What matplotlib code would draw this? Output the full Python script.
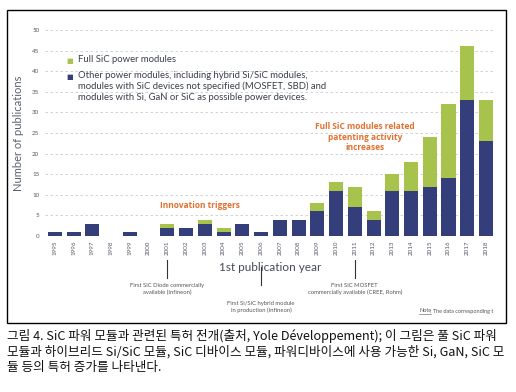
import matplotlib
matplotlib.use('Agg')
import matplotlib.pyplot as plt
from matplotlib.patches import Rectangle
import numpy as np

years = [str(y) for y in range(1995, 2019)]
other_modules = [1, 1, 3, 0, 1, 0, 2, 2, 3, 1, 3, 1, 4, 4, 6, 11, 7, 4, 11, 11, 12, 14, 33, 23]
full_sic = [0, 0, 0, 0, 0, 0, 1, 0, 1, 1, 0, 0, 0, 0, 2, 2, 5, 2, 4, 7, 12, 18, 13, 10]

milestones = {
    '2001': 'First SiC Diode commercially\navailable (Infineon)',
    '2006': 'First Si/SiC hybrid module\nin production (Infineon)',
    '2011': 'First SiC MOSFET\ncommercially available (CREE, Rohm)',
}

caption = [
    '그림 4. SiC 파워 모듈과 관련된 특허 전개(출처, Yole Développement); 이 그림은 풀 SiC 파워',
    '모듈과 하이브리드 Si/SiC 모듈, SiC 디바이스 모듈, 파워디바이스에 사용 가능한 Si, GaN, SiC 모',
    '듈 등의 특허 증가를 나타낸다.',
]

NAVY = '#343e7a'
GREEN = '#a8c34b'
ORANGE = '#e2702e'
GRAY = '#555a66'

plt.rcParams['font.family'] = ['Lato', 'DejaVu Sans']

fig = plt.figure(figsize=(5.16, 3.92), dpi=100)
W, H = 516, 392

# frame around the chart
fig.patches.append(Rectangle((7 / W, 1 - 323 / H), 499 / W, 313 / H,
                             transform=fig.transFigure, fill=False,
                             edgecolor='black', linewidth=1.0))

ax = fig.add_axes([45 / W, 1 - 236 / H, 450 / W, 206 / H])
x = np.arange(len(years))
ax.bar(x, other_modules, width=0.75, color=NAVY, zorder=3)
ax.bar(x, full_sic, width=0.75, bottom=other_modules, color=GREEN, zorder=3)

ax.set_xlim(-0.53, len(years) - 0.52)
ax.set_ylim(0, 50)
ax.set_yticks(range(0, 51, 5))
ax.tick_params(axis='y', labelsize=4.5, colors=GRAY, length=0, pad=4)
ax.set_xticks(x)
ax.set_xticklabels(years, rotation=90, fontsize=4.5, color=GRAY)
ax.tick_params(axis='x', length=0, pad=3)
for s in ax.spines.values():
    s.set_visible(False)
ax.grid(axis='y', linestyle=(0, (3, 3)), color='#c8ccd2', linewidth=0.6, zorder=0)

ax.set_ylabel('Number of publications', fontsize=8, color='#5a6070', labelpad=6)
ax.set_xlabel('1st publication year', fontsize=8.5, color='#444a55', labelpad=5)

# legend
fig.text(70 / W, 1 - 60 / H, '■', color=GREEN, fontsize=5, ha='center', va='center')
fig.text(78 / W, 1 - 60 / H, 'Full SiC power modules', fontsize=6.8, color='#3a3f4a', va='center')
fig.text(70 / W, 1 - 77 / H, '■', color=NAVY, fontsize=5, ha='center', va='center')
fig.text(78 / W, 1 - 71 / H,
         'Other power modules, including hybrid Si/SiC modules,\n'
         'modules with SiC devices not specified (MOSFET, SBD) and\n'
         'modules with Si, GaN or SiC as possible power devices.',
         fontsize=6.8, color='#3a3f4a', va='top', linespacing=1.25)

# orange annotations
bold_font = ['Open Sans', 'DejaVu Sans']
fig.text(200 / W, 1 - 205 / H, 'Innovation triggers', fontsize=6.0, color=ORANGE,
         fontweight='bold', family=bold_font, ha='center', va='center')
fig.text(365 / W, 1 - 137 / H, 'Full SiC modules related\npatenting activity\nincreases',
         fontsize=6.0, color=ORANGE, fontweight='bold', family=bold_font,
         ha='center', va='center', linespacing=1.2)

# milestones under the axis
for yr, label in milestones.items():
    i = years.index(yr)
    xf = ax.transData.transform((i, 0))[0] / W
    if yr == '2006':
        y0, y1, yt = 267, 285, 301
    else:
        y0, y1, yt = 260, 278, 283
    fig.add_artist(plt.Line2D([xf, xf], [1 - y0 / H, 1 - y1 / H], color='#333333',
                              linewidth=0.8, transform=fig.transFigure))
    fig.text(xf, 1 - yt / H, label, fontsize=4.2, color='#555555', ha='center', va='top',
             linespacing=1.4)

# note in the lower right corner, with "Note" underlined
note_word = fig.text(419 / W, 1 - 311 / H, 'Note', fontsize=4.0, color='#555555',
                     ha='left', va='center')
renderer = fig.canvas.get_renderer()
bb = note_word.get_window_extent(renderer)
fig.text(bb.x1 / W - 0.002, 1 - 311 / H, ': The data corresponding t', fontsize=4.0,
         color='#555555', ha='left', va='center')
fig.add_artist(plt.Line2D([bb.x0 / W, bb.x1 / W], [(bb.y0 - 0.5) / H, (bb.y0 - 0.5) / H],
                          color='#555555', linewidth=0.4, transform=fig.transFigure))

# caption below the frame
for k, line in enumerate(caption):
    fig.text(7 / W, 1 - (336 + 16 * k) / H, line, fontsize=9.1, color='#111111',
             va='center', ha='left', family=['Noto Sans CJK KR', 'DejaVu Sans'])

fig.savefig('out.png', dpi=100)
